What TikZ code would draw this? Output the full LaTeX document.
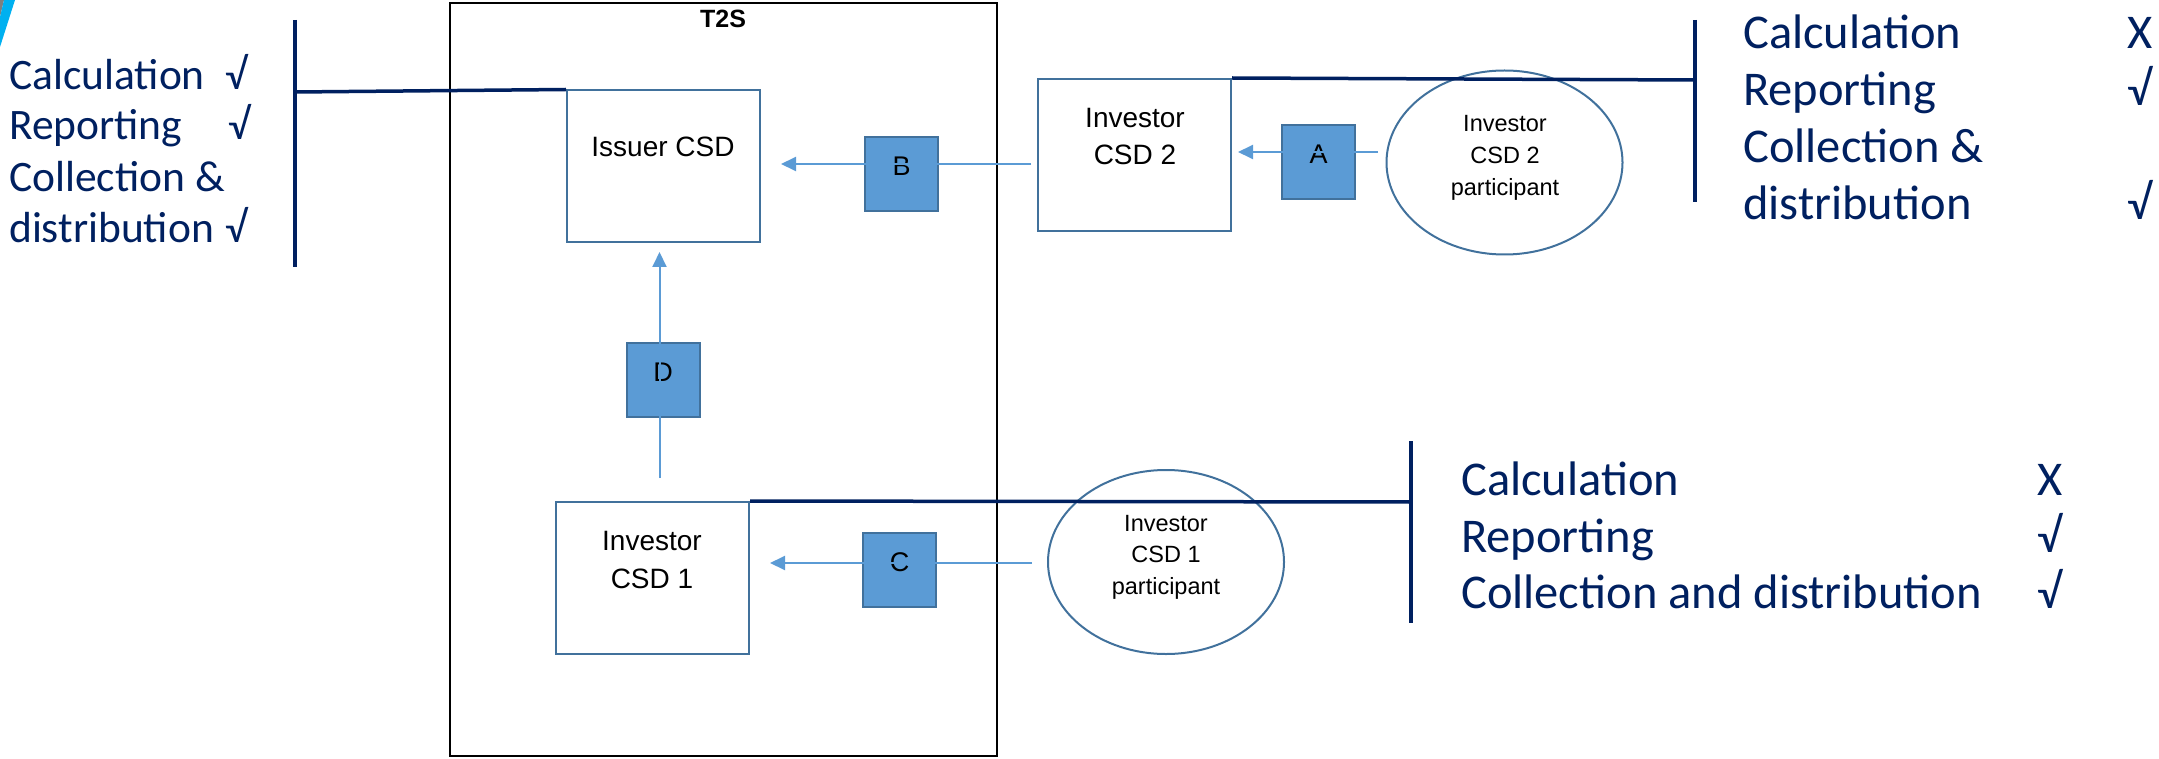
\documentclass[tikz,border=0pt]{standalone}
\usepackage{fontspec}
\setmainfont{Liberation Sans}
\newfontfamily\calfont{Carlito}
\usetikzlibrary{arrows.meta,shapes.geometric}
\definecolor{navy}{RGB}{0,32,96}
\definecolor{boxblue}{RGB}{65,113,156}
\definecolor{fillblue}{RGB}{91,155,213}
\definecolor{lineblue}{RGB}{91,155,213}
\definecolor{decocyan}{RGB}{0,176,240}
\definecolor{decogray}{RGB}{127,127,127}
\tikzset{
  csdbox/.style={draw=boxblue, line width=2pt, minimum width=193pt, minimum height=152pt, inner sep=0pt},
  letterbox/.style={draw=boxblue, fill=fillblue, line width=2pt, minimum width=73pt, minimum height=74pt, inner sep=0pt, font=\fontsize{27}{27}\selectfont, text height=19pt, text depth=16pt},
  partell/.style={ellipse, draw=boxblue, line width=2pt, minimum width=236pt, minimum height=184pt, inner sep=0pt},
  conn/.style={draw=lineblue, line width=2pt},
  arr/.style={conn, -{Triangle[length=15pt,width=14pt]}},
  navyline/.style={draw=navy, line width=3.5pt},
  boxtxt/.style={anchor=base, inner sep=0pt, font=\fontsize{28}{28}\selectfont},
  elltxt/.style={anchor=base, inner sep=0pt, font=\fontsize{23.5}{23.5}\selectfont},
  bigtxt/.style={anchor=base west, inner sep=0pt, text=navy, font=\calfont\fontsize{48.5}{48.5}\selectfont},
  lefttxt/.style={anchor=base west, inner sep=0pt, text=navy, font=\calfont\fontsize{43.5}{43.5}\selectfont},
}
\begin{document}
\begin{tikzpicture}[x=1pt,y=-1pt]
\useasboundingbox (0,0) rectangle (2159,759);
% corner decoration
\fill[decogray] (0,0) -- (4,0) -- (0,17) -- cycle;
\fill[decocyan] (4,0) -- (15,0) -- (0,47) -- (0,17) -- cycle;

% T2S frame
\node[draw=black, line width=2.5pt, minimum width=547pt, minimum height=753pt, inner sep=0pt] (t2s) at (723.5,379.5) {};
\node[anchor=base, inner sep=0pt, font=\bfseries\fontsize{25}{25}\selectfont] (t2slbl) at (723,28) {T2S};

% CSD boxes
\node[csdbox] (issuer) at (663.5,166.5) {};
\node[boxtxt] (issuertxt) at (663,157) {Issuer CSD};
\node[csdbox] (csd2) at (1134.5,155) {};
\node[boxtxt] (csd2a) at (1135,128) {Investor};
\node[boxtxt] (csd2b) at (1135,165) {CSD 2};
\node[csdbox] (csd1) at (652.5,578) {};
\node[boxtxt] (csd1a) at (652,550) {Investor};
\node[boxtxt] (csd1b) at (652,588) {CSD 1};

% participants
\node[partell] (ell2) at (1504.5,162.5) {};
\node[elltxt] (ell2a) at (1505,132) {Investor};
\node[elltxt] (ell2b) at (1505,164) {CSD 2};
\node[elltxt] (ell2c) at (1505,196) {participant};
\node[partell] (ell1) at (1166,562) {};
\node[elltxt] (ell1a) at (1166,531) {Investor};
\node[elltxt] (ell1b) at (1166,562) {CSD 1};
\node[elltxt] (ell1c) at (1166,594) {participant};

% letter boxes
\node[letterbox] (B) at (901.5,174) {B};
\node[letterbox] (A) at (1318.5,162) {A};
\node[letterbox] (D) at (663,380) {D};
\node[letterbox] (C) at (899.5,570) {C};

% connector end points
\coordinate (bS) at (1031,164);
\coordinate (bE) at (781,164);
\coordinate (aS) at (1378,152);
\coordinate (aE) at (1238,152);
\coordinate (cS) at (1032,563);
\coordinate (cE) at (770,563);
\coordinate (dS) at (659.5,478);
\coordinate (dE) at (659.5,252);

\draw[arr] (bS) -- (bE);
\draw[arr] (aS) -- (aE);
\draw[arr] (cS) -- (cE);
\draw[arr] (dS) -- (dE);

% navy brackets
\coordinate (lbar) at (295,92);
\coordinate (lbarT) at (295,20);
\coordinate (lbarB) at (295,267);
\coordinate (rbar) at (1695,80);
\coordinate (rbarT) at (1695,20);
\coordinate (rbarB) at (1695,202);
\coordinate (mbar) at (1411,502);
\coordinate (mbarT) at (1411,441);
\coordinate (mbarB) at (1411,623);
\draw[navyline] (issuer.north west) -- (lbar);
\draw[navyline] (lbarT) -- (lbarB);
\draw[navyline] (csd2.north east) -- (rbar);
\draw[navyline] (rbarT) -- (rbarB);
\draw[navyline] (csd1.north east) -- (mbar);
\draw[navyline] (mbarT) -- (mbarB);

% left block
\node[lefttxt] (l1) at (9,90) {Calculation};
\node[lefttxt] (l1m) at (225,90) {√};
\node[lefttxt] (l2) at (9,140) {Reporting};
\node[lefttxt] (l2m) at (228,140) {√};
\node[lefttxt] (l3) at (9,192) {Collection \&};
\node[lefttxt] (l4) at (9,243) {distribution};
\node[lefttxt] (l4m) at (225,243) {√};

% upper right block
\node[bigtxt] (r1) at (1743,49) {Calculation};
\node[bigtxt] (r1m) at (2127,49) {X};
\node[bigtxt] (r2) at (1743,106) {Reporting};
\node[bigtxt] (r2m) at (2127,106) {√};
\node[bigtxt] (r3) at (1743,163) {Collection \&};
\node[bigtxt] (r4) at (1743,220) {distribution};
\node[bigtxt] (r4m) at (2127,220) {√};

% lower right block
\node[bigtxt] (m1) at (1461,495) {Calculation};
\node[bigtxt] (m1m) at (2037,495) {X};
\node[bigtxt] (m2) at (1461,552) {Reporting};
\node[bigtxt] (m2m) at (2037,552) {√};
\node[bigtxt] (m3) at (1461,608) {Collection and distribution};
\node[bigtxt] (m3m) at (2037,608) {√};
\end{tikzpicture}
\end{document}
